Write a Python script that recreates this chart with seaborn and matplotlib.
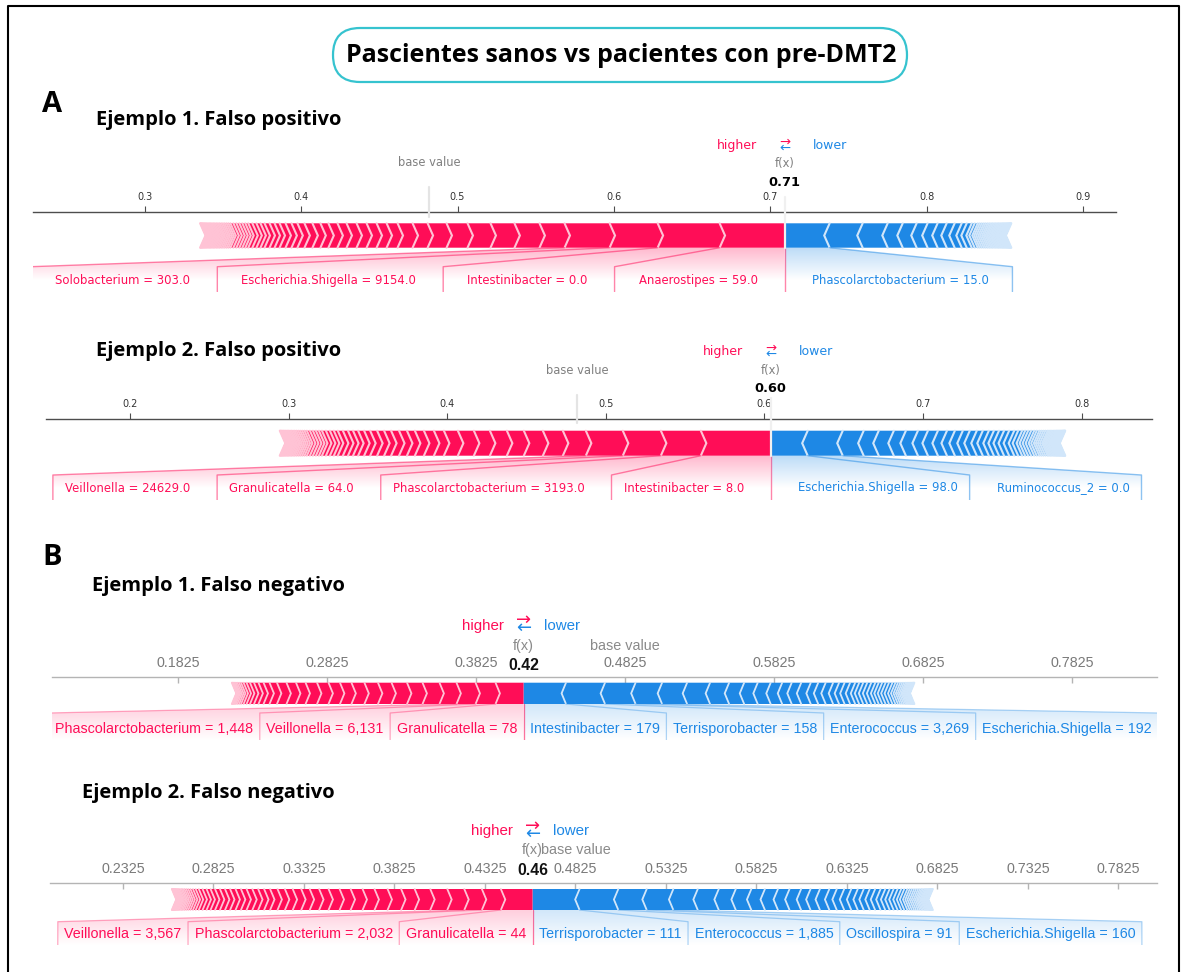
import numpy as np
import matplotlib
matplotlib.use("Agg")
import matplotlib.pyplot as plt
import seaborn as sns
from matplotlib.patches import Polygon, FancyBboxPatch
from matplotlib.colors import LinearSegmentedColormap

# ---------------- data (SHAP contributions) ----------------
a1_base, a1_out, a1_out_label = 0.482, 0.709, "0.71"
a1_pos = [0.0415, 0.0396, 0.0307, 0.0288, 0.0160, 0.0160, 0.0153, 0.0147, 0.0134, 0.0121,
          0.0096, 0.0096, 0.0070, 0.0064, 0.0064, 0.0064, 0.0064, 0.0058, 0.0058, 0.0051,
          0.0051, 0.0051, 0.0045, 0.0038, 0.0038, 0.0038, 0.0032, 0.0032, 0.0032, 0.0026,
          0.0026, 0.0026, 0.0026, 0.0019, 0.0019, 0.0019, 0.0019, 0.0019, 0.0019, 0.0013,
          0.0012, 0.0012, 0.0011, 0.0011, 0.0011, 0.0010, 0.0010, 0.0010, 0.0009, 0.0009,
          0.0009, 0.0008, 0.0008, 0.0008, 0.0007, 0.0007, 0.0006, 0.0006, 0.0005, 0.0005,
          0.0004, 0.0003]
a1_pos_names = ["Anaerostipes = 59.0", "Intestinibacter = 0.0",
                "Escherichia.Shigella = 9154.0", "Solobacterium = 303.0"]
a1_neg = [0.0288, 0.0211, 0.0160, 0.0096, 0.0089, 0.0070, 0.0064, 0.0058, 0.0051, 0.0045,
          0.0032, 0.0032, 0.0019, 0.0019, 0.0013, 0.0013, 0.0013,
          0.0012, 0.0012, 0.0011, 0.0011, 0.0010, 0.0010, 0.0010, 0.0009, 0.0009, 0.0009,
          0.0008, 0.0008, 0.0007, 0.0007, 0.0007, 0.0006, 0.0006, 0.0005, 0.0005, 0.0004,
          0.0004, 0.0003, 0.0003]
a1_neg_names = ["Phascolarctobacterium = 15.0"]
a1_ticks = [0.3, 0.4, 0.5, 0.6, 0.7, 0.8, 0.9]

a2_base, a2_out, a2_out_label = 0.482, 0.604, "0.60"
a2_pos = [0.0441, 0.0252, 0.0240, 0.0233, 0.0145, 0.0126, 0.0120, 0.0107, 0.0107, 0.0101,
          0.0101, 0.0088, 0.0063, 0.0063, 0.0057, 0.0050, 0.0050, 0.0050, 0.0044, 0.0044,
          0.0044, 0.0038, 0.0038, 0.0032, 0.0032, 0.0032, 0.0032, 0.0025, 0.0025, 0.0025,
          0.0025, 0.0019, 0.0019, 0.0019, 0.0019, 0.0019,
          0.0015, 0.0014, 0.0013, 0.0012, 0.0012, 0.0011, 0.0010, 0.0010, 0.0009, 0.0009,
          0.0008, 0.0008, 0.0007, 0.0007, 0.0006, 0.0006, 0.0005, 0.0005, 0.0004]
a2_pos_names = ["Intestinibacter = 8.0", "Phascolarctobacterium = 3193.0",
                "Granulicatella = 64.0", "Veillonella = 24629.0"]
a2_neg = [0.0233, 0.0221, 0.0132, 0.0095, 0.0095, 0.0076, 0.0076, 0.0063, 0.0063, 0.0057,
          0.0050, 0.0050, 0.0044, 0.0044, 0.0038, 0.0038, 0.0032, 0.0032, 0.0032, 0.0032,
          0.0032, 0.0025, 0.0025, 0.0019, 0.0019, 0.0019, 0.0019,
          0.0016, 0.0016, 0.0013, 0.0013, 0.0013, 0.0013, 0.0009, 0.0009, 0.0009, 0.0009,
          0.0008, 0.0008, 0.0006, 0.0006, 0.0006, 0.0006, 0.0005, 0.0005, 0.0005, 0.0004,
          0.0004, 0.0003, 0.0003, 0.0003, 0.0002, 0.0002]
a2_neg_names = ["Escherichia.Shigella = 98.0", "Ruminococcus_2 = 0.0"]
a2_ticks = [0.2, 0.3, 0.4, 0.5, 0.6, 0.7, 0.8]

b1_base, b1_out, b1_out_label = 0.4825, 0.4144, "0.42"
b1_pos = [0.0188, 0.0134, 0.0128, 0.0114, 0.0114, 0.0104, 0.0104, 0.0091, 0.0091, 0.0087,
          0.0077, 0.0077, 0.0077, 0.0077, 0.0064, 0.0064, 0.0064, 0.0050, 0.0040,
          0.0034, 0.0030, 0.0027, 0.0023, 0.0020, 0.0017, 0.0013, 0.0012, 0.0010, 0.0008,
          0.0007, 0.0005, 0.0004, 0.0003]
b1_pos_names = ["Granulicatella = 78", "Veillonella = 6,131", "Phascolarctobacterium = 1,448"]
b1_neg = [0.0285, 0.0262, 0.0205, 0.0178, 0.0168, 0.0154, 0.0128, 0.0101, 0.0091, 0.0087,
          0.0077, 0.0064, 0.0064, 0.0064, 0.0050, 0.0050, 0.0050, 0.0040, 0.0037, 0.0037,
          0.0034, 0.0027, 0.0027, 0.0027, 0.0027, 0.0027, 0.0023, 0.0023, 0.0023, 0.0023,
          0.0023, 0.0020, 0.0017, 0.0015, 0.0013, 0.0012, 0.0011, 0.0009, 0.0008, 0.0007,
          0.0007, 0.0006, 0.0005, 0.0005, 0.0004, 0.0003, 0.0003, 0.0003]
b1_neg_names = ["Intestinibacter = 179", "Terrisporobacter = 158",
                "Enterococcus = 3,269", "Escherichia.Shigella = 192"]
b1_ticks = [0.1825, 0.2825, 0.3825, 0.4825, 0.5825, 0.6825, 0.7825]
b1_tick_labels = ["0.1825", "0.2825", "0.3825", "0.4825", "0.5825", "0.6825", "0.7825"]

b2_base, b2_out, b2_out_label = 0.4825, 0.4588, "0.46"
b2_pos = [0.0175, 0.0105, 0.0097, 0.0094, 0.0094, 0.0086, 0.0075, 0.0075, 0.0072, 0.0066,
          0.0066, 0.0061, 0.0061, 0.0052, 0.0052, 0.0047, 0.0047, 0.0043, 0.0041, 0.0041,
          0.0033, 0.0033, 0.0032, 0.0032, 0.0031, 0.0030, 0.0030, 0.0028, 0.0028, 0.0027,
          0.0025, 0.0022, 0.0022, 0.0021, 0.0017,
          0.0015, 0.0014, 0.0012, 0.0011, 0.0010, 0.0009, 0.0008, 0.0008, 0.0007, 0.0006,
          0.0006, 0.0005, 0.0004, 0.0004, 0.0003, 0.0003, 0.0003, 0.0002, 0.0002]
b2_pos_names = ["Granulicatella = 44", "Phascolarctobacterium = 2,032", "Veillonella = 3,567"]
b2_neg = [0.0260, 0.0214, 0.0157, 0.0147, 0.0135, 0.0116, 0.0094, 0.0086, 0.0075, 0.0072,
          0.0064, 0.0064, 0.0052, 0.0052, 0.0052, 0.0041, 0.0041, 0.0039, 0.0036, 0.0033,
          0.0033, 0.0030, 0.0030, 0.0026, 0.0024, 0.0022, 0.0022, 0.0020, 0.0017, 0.0017,
          0.0013, 0.0012, 0.0012, 0.0011, 0.0011, 0.0010, 0.0009, 0.0008, 0.0008, 0.0007,
          0.0006, 0.0006, 0.0005, 0.0004, 0.0004, 0.0003, 0.0003, 0.0003, 0.0002, 0.0002,
          0.0002]
b2_neg_names = ["Terrisporobacter = 111", "Enterococcus = 1,885",
                "Oscillospira = 91", "Escherichia.Shigella = 160"]
b2_ticks = [0.2325, 0.2825, 0.3325, 0.3825, 0.4325, 0.4825, 0.5325, 0.5825, 0.6325,
            0.6825, 0.7325, 0.7825]
b2_tick_labels = ["0.2325", "0.2825", "0.3325", "0.3825", "0.4325", "0.4825", "0.5325",
                  "0.5825", "0.6325", "0.6825", "0.7325", "0.7825"]

main_title = "Pascientes sanos vs pacientes con pre-DMT2"
panel_titles = ["Ejemplo 1. Falso positivo", "Ejemplo 2. Falso positivo",
                "Ejemplo 1. Falso negativo", "Ejemplo 2. Falso negativo"]

# ---------------- layout (pixel positions) ----------------
W, H = 1186, 972
RED, RED_L = "#FF0D57", "#FFC3D5"
BLUE, BLUE_L = "#1E88E5", "#D1E6FA"

LAY = {
    "A1": dict(x0=32.5, x1=1116, xlim=(0.2284, 0.9208), axis=212, top=223.3, bot=247.7,
               bracket=266.7, label=280, bottom=291.7, hl=145.5, fx=163, out=182.7,
               fxline=197, baseline=(187, 217), gap=(27, 24)),
    "A2": dict(x0=46, x1=1152, xlim=(0.147, 0.8444), axis=419, top=430.7, bot=455.7,
               bracket=475, label=488, bottom=500, hl=351.7, fx=370.7, out=389,
               fxline=396, baseline=(395, 423), gap=(27, 12)),
    "B1": dict(x0=52, x1=1157, xlim=(0.0979, 0.8396), axis=677, top=682.7, bot=704,
               bracket=713, label=729, bottom=740, hl=625.7, fx=646, out=665, pad=6.5),
    "B2": dict(x0=50, x1=1157.5, xlim=(0.1922, 0.8041), axis=883.3, top=889, bot=910,
               bracket=921.7, label=934, bottom=945, hl=831, fx=850, out=870, pad=6.5),
}

sns.set_theme(style="white")
plt.rcParams["font.family"] = ["DejaVu Sans"]
plt.rcParams["text.color"] = "black"

fig = plt.figure(figsize=(W / 100, H / 100), dpi=100)
bg = fig.add_axes([0, 0, 1, 1])
bg.set_xlim(0, W)
bg.set_ylim(H, 0)
bg.axis("off")
renderer = fig.canvas.get_renderer()


def shade(ax, pts, color, alpha, y0, y1):
    poly = Polygon(pts, closed=True, fc="none", ec="none")
    ax.add_patch(poly)
    xs = [p[0] for p in pts]
    cmap = LinearSegmentedColormap.from_list("fade", [color, "white"])
    grad = np.linspace(0, 1, 100).reshape(-1, 1)
    im = ax.imshow(grad, cmap=cmap, alpha=alpha, aspect="auto", origin="upper",
                   extent=(min(xs), max(xs), y1, y0), interpolation="bilinear", zorder=0.5)
    im.set_clip_path(poly)


def draw_bars(ax, lay, out, vals, sign, colors, sep, lw):
    top, bot = lay["top"], lay["bot"]
    mid = (top + bot) / 2
    pre = out
    seps = []
    for i, v in enumerate(vals):
        if sign > 0:
            lb, rb = pre - v, pre
            pre = lb
            ind, sp = sep, lb
        else:
            lb, rb = pre, pre + v
            pre = rb
            ind, sp = -sep, rb
        if i == 0:
            if sign > 0:
                pts = [(lb, bot), (rb, bot), (rb, top), (lb, top), (lb + ind, mid)]
            else:
                pts = [(rb, bot), (lb, bot), (lb, top), (rb, top), (rb + ind, mid)]
        else:
            pts = [(lb, bot), (rb, bot), (rb + ind * 0.9, mid), (rb, top), (lb, top),
                   (lb + ind * 0.9, mid)]
        ax.add_patch(Polygon(pts, closed=True, fc=colors[0], lw=0, zorder=2))
        seps.append([(sp, bot), (sp + ind, mid), (sp, top)])
    for s in seps:
        xs, ys = zip(*s)
        ax.plot(xs, ys, color=colors[1], lw=lw, zorder=2.1, solid_joinstyle="miter")


def text_width(t, dpp):
    return t.get_window_extent(renderer).width * dpp


def mpl_labels(ax, lay, out, vals, names, sign, color, dpp, fs):
    gn, gf = lay["gap"]
    bot, br, bottom = lay["bot"], lay["bracket"], lay["bottom"]
    start, pre, box_end = out, out, out
    bounds = out - sign * np.cumsum(vals)
    if sign > 0:
        ax.plot([out, out], [bot, bottom], color=color, alpha=0.5, lw=1, zorder=3)
    for name, val in zip(names, bounds):
        t = ax.text(start - sign * gn * dpp, lay["label"], name, color=color, fontsize=fs,
                    ha="right" if sign > 0 else "left", va="center", zorder=4)
        edge = start - sign * (gn * dpp + text_width(t, dpp))
        if sign * edge > sign * val:
            ax.plot([val, val], [bot, bottom], color=color, alpha=0.5, lw=1, zorder=3)
            start = box_end = val
        else:
            box_end = edge - sign * gf * dpp
            ax.plot([val, box_end, box_end], [bot, br, bottom], color=color, alpha=0.5,
                    lw=1, zorder=3)
            start = box_end
        pre = val
    shade(ax, [(out, bot), (pre, bot), (box_end, br), (box_end, bottom), (out, bottom)],
          color, 0.3, bot, lay["label"])


def js_labels(ax, lay, out, vals, names, sign, color, dpp, fs):
    pad = lay["pad"] * dpp
    bot, br, bottom = lay["bot"], lay["bracket"], lay["bottom"]
    start, prev = out, out
    bounds = out - sign * np.cumsum(vals)
    for name, val in zip(names, bounds):
        t = ax.text(start - sign * pad, lay["label"], name, color=color, fontsize=fs,
                    family="Liberation Sans", ha="right" if sign > 0 else "left",
                    va="center", zorder=4)
        far = start - sign * (text_width(t, dpp) + 2 * pad)
        shade(ax, [(prev, bot), (val, bot), (far, br), (far, bottom), (start, bottom),
                   (start, br)], color, 0.2, bot, bottom)
        ax.plot([val, far, far], [bot, br, bottom], color=color, alpha=0.35, lw=0.9, zorder=3)
        start, prev = far, val
    ax.plot([out, out], [bot, bottom], color=RED, alpha=0.35, lw=0.9, zorder=3)


def force_panel(key, base, out, out_label, pos, pos_names, neg, neg_names, ticks,
                tick_labels, js):
    lay = LAY[key]
    ax = fig.add_axes([lay["x0"] / W, 1 - lay["bottom"] / H,
                       (lay["x1"] - lay["x0"]) / W, (lay["bottom"] - lay["axis"]) / H])
    ax.patch.set_alpha(0)
    ax.set_xlim(lay["xlim"])
    ax.set_ylim(lay["bottom"], lay["axis"])
    ax.set_autoscale_on(False)
    dpp = (lay["xlim"][1] - lay["xlim"][0]) / (lay["x1"] - lay["x0"])
    for s in ["left", "right", "bottom"]:
        ax.spines[s].set_visible(False)
    ax.set_yticks([])
    ax.xaxis.set_ticks_position("top")
    ax.set_xticks(ticks)
    ax.set_xticklabels(tick_labels)
    fam = "Liberation Sans" if js else "DejaVu Sans"

    sep = (lay["xlim"][1] - lay["xlim"][0]) / 200
    if js:
        ax.spines["top"].set_color("#b4b4b4")
        ax.spines["top"].set_linewidth(1)
        ax.tick_params(axis="x", direction="in", length=4, width=1, colors="#b4b4b4",
                       labelcolor="#7a7a7a", labelsize=10.3, pad=5)
        lab_fs, hl_fs, out_fs, small_fs = 10.3, 10.9, 11.3, 10.4
        draw_bars(ax, lay, out, neg, -1, (BLUE, BLUE_L), sep * 0.8, 1.3)
        draw_bars(ax, lay, out, pos, 1, (RED, RED_L), sep * 0.8, 1.3)
        js_labels(ax, lay, out, neg, neg_names, -1, BLUE, dpp, lab_fs)
        js_labels(ax, lay, out, pos, pos_names, 1, RED, dpp, lab_fs)
        gap, arrow_fs, dy, yc = 20, 13, 4, lay["hl"] - 1.5
        fx_col, num_col = "#8a8a8a", "#111111"
    else:
        ax.spines["top"].set_color("#4d4d4d")
        ax.spines["top"].set_linewidth(1)
        ax.tick_params(axis="x", direction="out", length=4, width=0.8, colors="#4d4d4d",
                       labelcolor="#333333", labelsize=7, pad=3)
        lab_fs, hl_fs, out_fs, small_fs = 8.4, 9, 9.3, 8.3
        draw_bars(ax, lay, out, neg, -1, (BLUE, BLUE_L), sep, 1.5)
        draw_bars(ax, lay, out, pos, 1, (RED, RED_L), sep, 1.5)
        mpl_labels(ax, lay, out, neg, neg_names, -1, BLUE, dpp, lab_fs)
        mpl_labels(ax, lay, out, pos, pos_names, 1, RED, dpp, lab_fs)
        gap, arrow_fs, dy, yc = 28, 9.5, 2.8, lay["hl"] - 0.3
        fx_col, num_col = "#808080", "#000000"
        # base value and f(x) guide lines
        ax.plot([base, base], lay["baseline"], color="#e4e4e4", lw=1.6, zorder=3,
                clip_on=False)
        ax.plot([out, out], [lay["bot"], lay["fxline"]], color="#f0f0f0", lw=1.6,
                zorder=3, clip_on=False)
    for lab in ax.get_xticklabels():
        lab.set_family(fam)

    # higher / lower legend
    ax.text(out - gap * dpp, lay["hl"], "higher", ha="right", va="center", color=RED,
            fontsize=hl_fs, family=fam)
    ax.text(out + gap * dpp, lay["hl"], "lower", ha="left", va="center", color=BLUE,
            fontsize=hl_fs, family=fam)
    ax.text(out, yc - dy, "\u2192", ha="center", va="center", color=RED, fontsize=arrow_fs,
            family="DejaVu Sans")
    ax.text(out, yc + dy, "\u2190", ha="center", va="center", color=BLUE, fontsize=arrow_fs,
            family="DejaVu Sans")

    # output value and base value
    t = ax.text(out, lay["out"], out_label, ha="center", va="center", fontsize=out_fs,
                weight="bold", color=num_col, family=fam, zorder=5)
    if not js:
        t.set_bbox(dict(fc="white", ec="white", pad=0.5))
    ax.text(out, lay["fx"], "f(x)", ha="center", va="center", fontsize=small_fs,
            color=fx_col, family=fam)
    ax.text(base, lay["fx"], "base value", ha="center", va="center", fontsize=small_fs,
            color=fx_col, family=fam)
    ax.set_xlim(lay["xlim"])
    ax.set_ylim(lay["bottom"], lay["axis"])
    return ax


force_panel("A1", a1_base, a1_out, a1_out_label, a1_pos, a1_pos_names, a1_neg, a1_neg_names,
            a1_ticks, [f"{v:.1f}" for v in a1_ticks], js=False)
force_panel("A2", a2_base, a2_out, a2_out_label, a2_pos, a2_pos_names, a2_neg, a2_neg_names,
            a2_ticks, [f"{v:.1f}" for v in a2_ticks], js=False)
force_panel("B1", b1_base, b1_out, b1_out_label, b1_pos, b1_pos_names, b1_neg, b1_neg_names,
            b1_ticks, b1_tick_labels, js=True)
force_panel("B2", b2_base, b2_out, b2_out_label, b2_pos, b2_pos_names, b2_neg, b2_neg_names,
            b2_ticks, b2_tick_labels, js=True)

# ---------------- frame, headings ----------------
bg.plot([8, 8, 1179, 1179], [H + 5, 6, 6, H + 5], color="black", lw=1.5)
bg.add_patch(FancyBboxPatch((333, 28), 574, 54, boxstyle="round,pad=0,rounding_size=27",
                            ec="#36c3cf", fc="white", lw=1.6))
bg.text(621, 55, main_title, ha="center", va="center", fontsize=18, weight="bold",
        family="Open Sans", color="black")
bg.text(52, 105, "A", ha="center", va="center", fontsize=21, weight="bold",
        family="Open Sans", color="black")
bg.text(52, 557, "B", ha="center", va="center", fontsize=21, weight="bold",
        family="Open Sans", color="black")
for (x, y), title in zip([(96, 120), (96, 351), (92, 586), (82, 793)], panel_titles):
    bg.text(x, y, title, ha="left", va="center", fontsize=14.5, weight="bold",
            family="Open Sans", color="black")

fig.savefig("out.png", dpi=100)
